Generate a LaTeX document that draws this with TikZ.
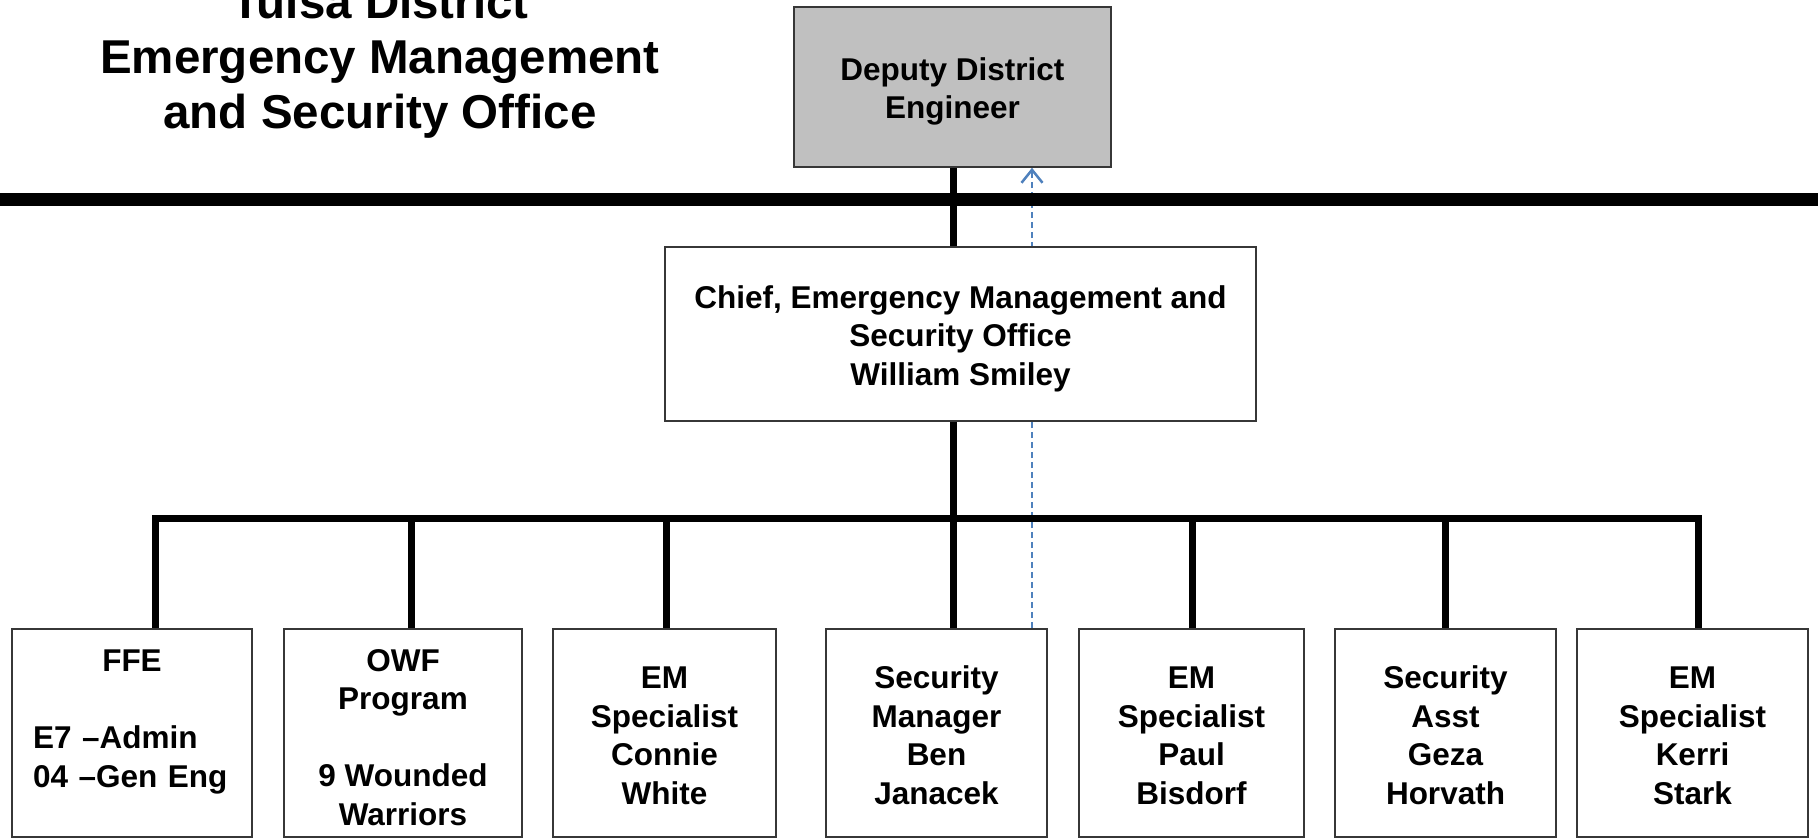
\documentclass[tikz,border=0pt]{standalone}
\usepackage{fontspec}
\setmainfont{Liberation Sans}
\usetikzlibrary{arrows.meta}
\definecolor{dashblue}{RGB}{79,129,189}
\definecolor{boxgray}{RGB}{192,192,192}
\definecolor{edgegray}{RGB}{55,55,55}
\newcommand{\lift}[1]{\rule{0pt}{#1}}
\pgfdeclarelayer{paper}
\pgfdeclarelayer{bg}
\pgfsetlayers{paper,bg,main}
\begin{document}
\begin{tikzpicture}[x=1pt,y=-1pt,
  orgbox/.style={draw=edgegray, line width=1.6pt, fill=white, inner sep=0pt,
    align=center, font=\bfseries\fontsize{31.5}{38.5}\selectfont},
  staffbox/.style={orgbox, minimum height=208pt},
  titletext/.style={anchor=base, inner sep=0pt, font=\bfseries\fontsize{47.5}{55}\selectfont},
  heavy/.style={line width=13pt, black},
  link/.style={line width=7pt, black, line join=miter},
  dotlink/.style={line width=2.5pt, dashblue, dash pattern=on 6pt off 4pt,
    -{Straight Barb[length=13pt,width=21pt,line width=2.5pt]}}]
\useasboundingbox (0,0) rectangle (1818,839);
\begin{pgfonlayer}{paper}
  \fill[white] (0,0) rectangle (1818,839);
\end{pgfonlayer}

% title
\node[titletext] (t1) at (380,18) {Tulsa District};
\node[titletext] (t2) at (380,73) {Emergency Management};
\node[titletext] (t3) at (380,128) {and Security Office};

% boxes
\node[orgbox, fill=boxgray, minimum width=317pt, minimum height=160pt] (dep) at (952.5,87)
  {\lift{32pt}Deputy District\\Engineer};
\node[orgbox, minimum width=591pt, minimum height=174pt] (chief) at (960.5,334)
  {\lift{32pt}Chief, Emergency Management and\\Security Office\\William Smiley};

\node[staffbox, minimum width=240pt, text width=198pt, align=left] (b1) at (132,733)
  {\lift{31pt}\makebox[198pt]{FFE}\\\mbox{}\\E7 –Admin\\04 –Gen Eng\\\mbox{}};
\node[staffbox, minimum width=238pt] (b2) at (403,733) {\lift{31pt}OWF\\Program\\\mbox{}\\9 Wounded\\Warriors};
\node[staffbox, minimum width=223pt] (b3) at (664.5,733) {\lift{27pt}EM\\Specialist\\Connie\\White};
\node[staffbox, minimum width=221pt] (b4) at (936.5,733) {\lift{27pt}Security\\Manager\\Ben\\Janacek};
\node[staffbox, minimum width=225pt] (b5) at (1191.5,733) {\lift{27pt}EM\\Specialist\\Paul\\Bisdorf};
\node[staffbox, minimum width=221pt] (b6) at (1445.5,733) {\lift{27pt}Security\\Asst\\Geza\\Horvath};
\node[staffbox, minimum width=231pt] (b7) at (1692.5,733) {\lift{27pt}EM\\Specialist\\Kerri\\Stark};

% connector coordinates
\coordinate (barL) at (0,199);
\coordinate (barR) at (1818,199);
\coordinate (trunk) at (953,518);
\coordinate (d1) at (155,518);
\coordinate (d2) at (411,518);
\coordinate (d3) at (666,518);
\coordinate (d5) at (1192,518);
\coordinate (d6) at (1445,518);
\coordinate (d7) at (1698,518);
\coordinate (dash) at (1032,400);

\begin{pgfonlayer}{bg}
  \draw[dotlink] (dash |- b4.north) -- (dash |- dep.south);
  \draw[heavy] (barL) -- (barR);
  \draw[link] (trunk |- dep.south) -- (trunk |- chief.north);
  \draw[link] (trunk |- chief.south) -- (trunk) -- (trunk |- b4.north);
  \draw[link] (d1 |- b1.north) -- (d1) -- (d7) -- (d7 |- b7.north);
  \draw[link] (d2) -- (d2 |- b2.north);
  \draw[link] (d3) -- (d3 |- b3.north);
  \draw[link] (d5) -- (d5 |- b5.north);
  \draw[link] (d6) -- (d6 |- b6.north);
\end{pgfonlayer}
\end{tikzpicture}
\end{document}
